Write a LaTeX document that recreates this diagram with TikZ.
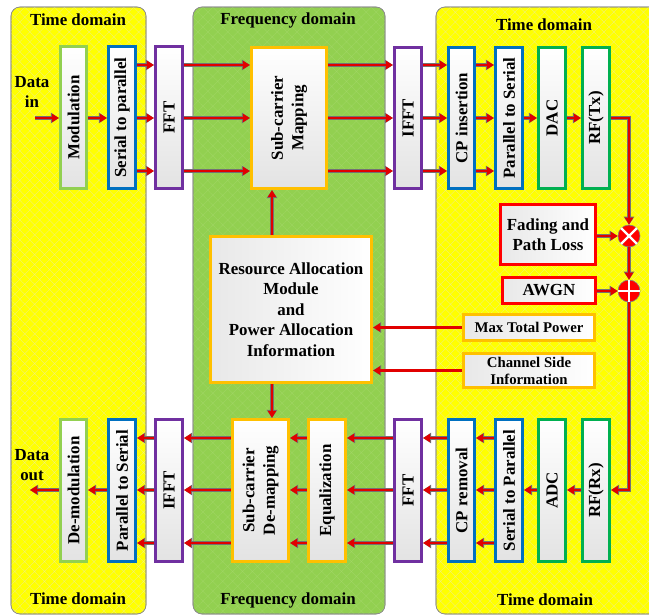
\documentclass[tikz,border=0pt]{standalone}
\usepackage{fontspec}
\setmainfont{Liberation Serif}
\usetikzlibrary{arrows.meta,shadows,patterns.meta}
\definecolor{cYel}{RGB}{255,255,0}
\definecolor{cYelH}{RGB}{240,240,120}
\definecolor{cGrn}{RGB}{146,208,80}
\definecolor{cGrnH}{RGB}{160,214,100}
\definecolor{cLG}{RGB}{146,208,80}
\definecolor{cBlue}{RGB}{0,112,192}
\definecolor{cPurp}{RGB}{112,48,160}
\definecolor{cOr}{RGB}{255,192,0}
\definecolor{cDG}{RGB}{0,176,80}
\definecolor{cRed}{RGB}{255,0,0}
\definecolor{cArr}{RGB}{225,0,0}
\begin{document}
\begin{tikzpicture}[x=1pt,y=-1pt,
  font=\fontsize{16.9}{20.5}\selectfont\bfseries,
  region/.style={draw=black!45, line width=0.6pt, rounded corners=9pt},
  vbox/.style={draw, line width=2.6pt, inner sep=0pt, top color=white, bottom color=black!11,
    drop shadow={shadow xshift=1.2pt, shadow yshift=-1.2pt, opacity=0.3}},
  hbox/.style={draw, line width=2.6pt, inner sep=0pt, left color=black!9, right color=white, align=center,
    drop shadow={shadow xshift=1.2pt, shadow yshift=-1.2pt, opacity=0.3}},
  arr/.style={draw=cArr, line width=2.2pt, -{Triangle[length=7pt,width=8pt]},
    preaction={draw=black!55, line width=3.6pt, -{Triangle[length=8pt,width=10pt]}}},
  lbl/.style={inner sep=0pt, align=center},
  sumnode/.style={circle, fill=cRed, draw=black!50, line width=0.6pt, minimum size=22, inner sep=0pt}
]
\useasboundingbox (0,0) rectangle (649,616);
% regions
\path[region, fill=cYel, postaction={pattern={Hatch[angle=45,distance=7pt,line width=0.35pt]}, pattern color=cYelH}] (11,7) rectangle (146,614);
\path[region, fill=cGrn, postaction={pattern={Hatch[angle=45,distance=7pt,line width=0.35pt]}, pattern color=cGrnH}] (193,7) rectangle (385,614);
\path[region, fill=cYel, postaction={pattern={Hatch[angle=45,distance=7pt,line width=0.35pt]}, pattern color=cYelH}] (436,7) rectangle (670,614);
\draw[region] (11,7) rectangle (146,614);
\draw[region] (193,7) rectangle (385,614);
\draw[region] (436,7) rectangle (670,614);

% region labels
\node[lbl] (tl) at (78,20) {Time domain};
\node[lbl] (tm) at (288,20) {Frequency domain};
\node[lbl] (tr) at (544,25) {Time domain};
\node[lbl] (bl) at (78,599) {Time domain};
\node[lbl] (bm) at (288,600) {Frequency domain};
\node[lbl] (br) at (545,600) {Time domain};

\node[lbl] (datain) at (32,92) {Data\\in};
\node[lbl] (dataout) at (32,465) {Data\\out};

% top row
\node[vbox, draw=cLG, minimum width=26.5, minimum height=142.5] (mod) at (73.5,117.5) {\rotatebox{90}{Modulation}};
\node[vbox, draw=cBlue, minimum width=27.5, minimum height=142.5] (s2p) at (122,117.5) {\rotatebox{90}{Serial to parallel}};
\node[vbox, draw=cPurp, minimum width=27.5, minimum height=142.5] (fft1) at (169,117.5) {\rotatebox{90}{FFT}};
\node[vbox, draw=cOr, minimum width=75.5, minimum height=141.5] (scm) at (289,118) {\rotatebox{90}{\begin{tabular}{@{}c@{}}Sub-carrier\\Mapping\end{tabular}}};
\node[vbox, draw=cPurp, minimum width=27.5, minimum height=141.5] (ifft1) at (408,118) {\rotatebox{90}{IFFT}};
\node[vbox, draw=cBlue, minimum width=26.5, minimum height=141.5] (cpi) at (461.5,118) {\rotatebox{90}{CP insertion}};
\node[vbox, draw=cBlue, minimum width=27.5, minimum height=141.5] (p2s1) at (509,118) {\rotatebox{90}{Parallel to Serial}};
\node[vbox, draw=cDG, minimum width=27.5, minimum height=141.5] (dac) at (552,118) {\rotatebox{90}{DAC}};
\node[vbox, draw=cDG, minimum width=27.5, minimum height=141.5] (rftx) at (596,118) {\rotatebox{90}{RF(Tx)}};

% bottom row
\node[vbox, draw=cLG, minimum width=26.5, minimum height=142.5] (demod) at (73.5,490.5) {\rotatebox{90}{De-modulation}};
\node[vbox, draw=cBlue, minimum width=27.5, minimum height=142.5] (p2s2) at (122,490.5) {\rotatebox{90}{Parallel to Serial}};
\node[vbox, draw=cPurp, minimum width=27.5, minimum height=142.5] (ifft2) at (169,490.5) {\rotatebox{90}{IFFT}};
\node[vbox, draw=cOr, minimum width=56.5, minimum height=142.5] (scdm) at (260.5,490.5) {\rotatebox{90}{\begin{tabular}{@{}c@{}}Sub-carrier\\De-mapping\end{tabular}}};
\node[vbox, draw=cOr, minimum width=37.5, minimum height=142.5] (eq) at (327,490.5) {\rotatebox{90}{Equalization}};
\node[vbox, draw=cPurp, minimum width=27.5, minimum height=142.5] (fft2) at (408,490.5) {\rotatebox{90}{FFT}};
\node[vbox, draw=cBlue, minimum width=26.5, minimum height=142.5] (cpr) at (461.5,490.5) {\rotatebox{90}{CP removal}};
\node[vbox, draw=cBlue, minimum width=27.5, minimum height=142.5] (s2p2) at (509,490.5) {\rotatebox{90}{Serial to Parallel}};
\node[vbox, draw=cDG, minimum width=27.5, minimum height=142.5] (adc) at (552,490.5) {\rotatebox{90}{ADC}};
\node[vbox, draw=cDG, minimum width=27.5, minimum height=142.5] (rfrx) at (596,490.5) {\rotatebox{90}{RF(Rx)}};

% middle
\node[hbox, draw=cOr, minimum width=161.5, minimum height=146.5] (ra) at (291,309.5) {Resource Allocation\\Module\\and\\Power Allocation\\Information};
\node[hbox, draw=cRed, minimum width=95.5, minimum height=60.5] (fad) at (548,234.5) {Fading and\\Path Loss};
\node[hbox, draw=cRed, minimum width=93.5, minimum height=26.5] (awgn) at (549,290.5) {AWGN};
\node[hbox, draw=cOr, minimum width=131.5, minimum height=26.5, font=\fontsize{14.8}{17}\selectfont\bfseries] (mtp) at (529,327.5) {Max Total Power};
\node[hbox, draw=cOr, minimum width=131.5, minimum height=34.5, font=\fontsize{14.8}{17}\selectfont\bfseries] (csi) at (529,370.5) {Channel Side\\Information};

\node[sumnode] (mult) at (629,236) {};
\draw[white, line width=2.2pt] (mult.north west) -- (mult.south east) (mult.north east) -- (mult.south west);
\node[sumnode] (add) at (629,291) {};
\draw[white, line width=2.2pt] (add.north) -- (add.south) (add.west) -- (add.east);

% row coordinates
\coordinate (r1) at (0,65);
\coordinate (r2) at (0,118);
\coordinate (r3) at (0,171);
\coordinate (b1) at (0,438);
\coordinate (b2) at (0,490);
\coordinate (b3) at (0,543);
\coordinate (din) at (35,118);
\coordinate (dout) at (30,490);
\coordinate (c1) at (629,118);
\coordinate (c2) at (629,490);
\coordinate (vx) at (272,0);

% top arrows
\draw[arr] (din) -- (mod.west |- din);
\draw[arr] (mod.east |- r2) -- (s2p.west |- r2);
\foreach \r in {r1,r2,r3} {
  \draw[arr] (s2p.east |- \r) -- (fft1.west |- \r);
  \draw[arr] (fft1.east |- \r) -- (scm.west |- \r);
  \draw[arr] (scm.east |- \r) -- (ifft1.west |- \r);
  \draw[arr] (ifft1.east |- \r) -- (cpi.west |- \r);
  \draw[arr] (cpi.east |- \r) -- (p2s1.west |- \r);
}
\draw[arr] (p2s1.east |- r2) -- (dac.west |- r2);
\draw[arr] (dac.east |- r2) -- (rftx.west |- r2);
\draw[arr] (rftx.east |- r2) -- (c1) -- (mult.north);
\draw[arr] (fad.east |- mult) -- (mult.west);
\draw[arr] (mult.south) -- (add.north);
\draw[arr] (awgn.east |- add) -- (add.west);
\draw[arr] (add.south) -- (c2) -- (rfrx.east |- b2);

% bottom arrows
\draw[arr] (rfrx.west |- b2) -- (adc.east |- b2);
\draw[arr] (adc.west |- b2) -- (s2p2.east |- b2);
\foreach \r in {b1,b2,b3} {
  \draw[arr] (s2p2.west |- \r) -- (cpr.east |- \r);
  \draw[arr] (cpr.west |- \r) -- (fft2.east |- \r);
  \draw[arr] (fft2.west |- \r) -- (eq.east |- \r);
  \draw[arr] (eq.west |- \r) -- (scdm.east |- \r);
  \draw[arr] (scdm.west |- \r) -- (ifft2.east |- \r);
  \draw[arr] (ifft2.west |- \r) -- (p2s2.east |- \r);
}
\draw[arr] (p2s2.west |- b2) -- (demod.east |- b2);
\draw[arr] (demod.west |- b2) -- (dout);

% middle arrows
\draw[arr] (mtp.west) -- (ra.east |- mtp.west);
\draw[arr] (csi.west) -- (ra.east |- csi.west);
\draw[arr] (ra.north -| vx) -- (scm.south -| vx);
\draw[arr] (ra.south -| vx) -- (scdm.north -| vx);
\end{tikzpicture}
\end{document}
